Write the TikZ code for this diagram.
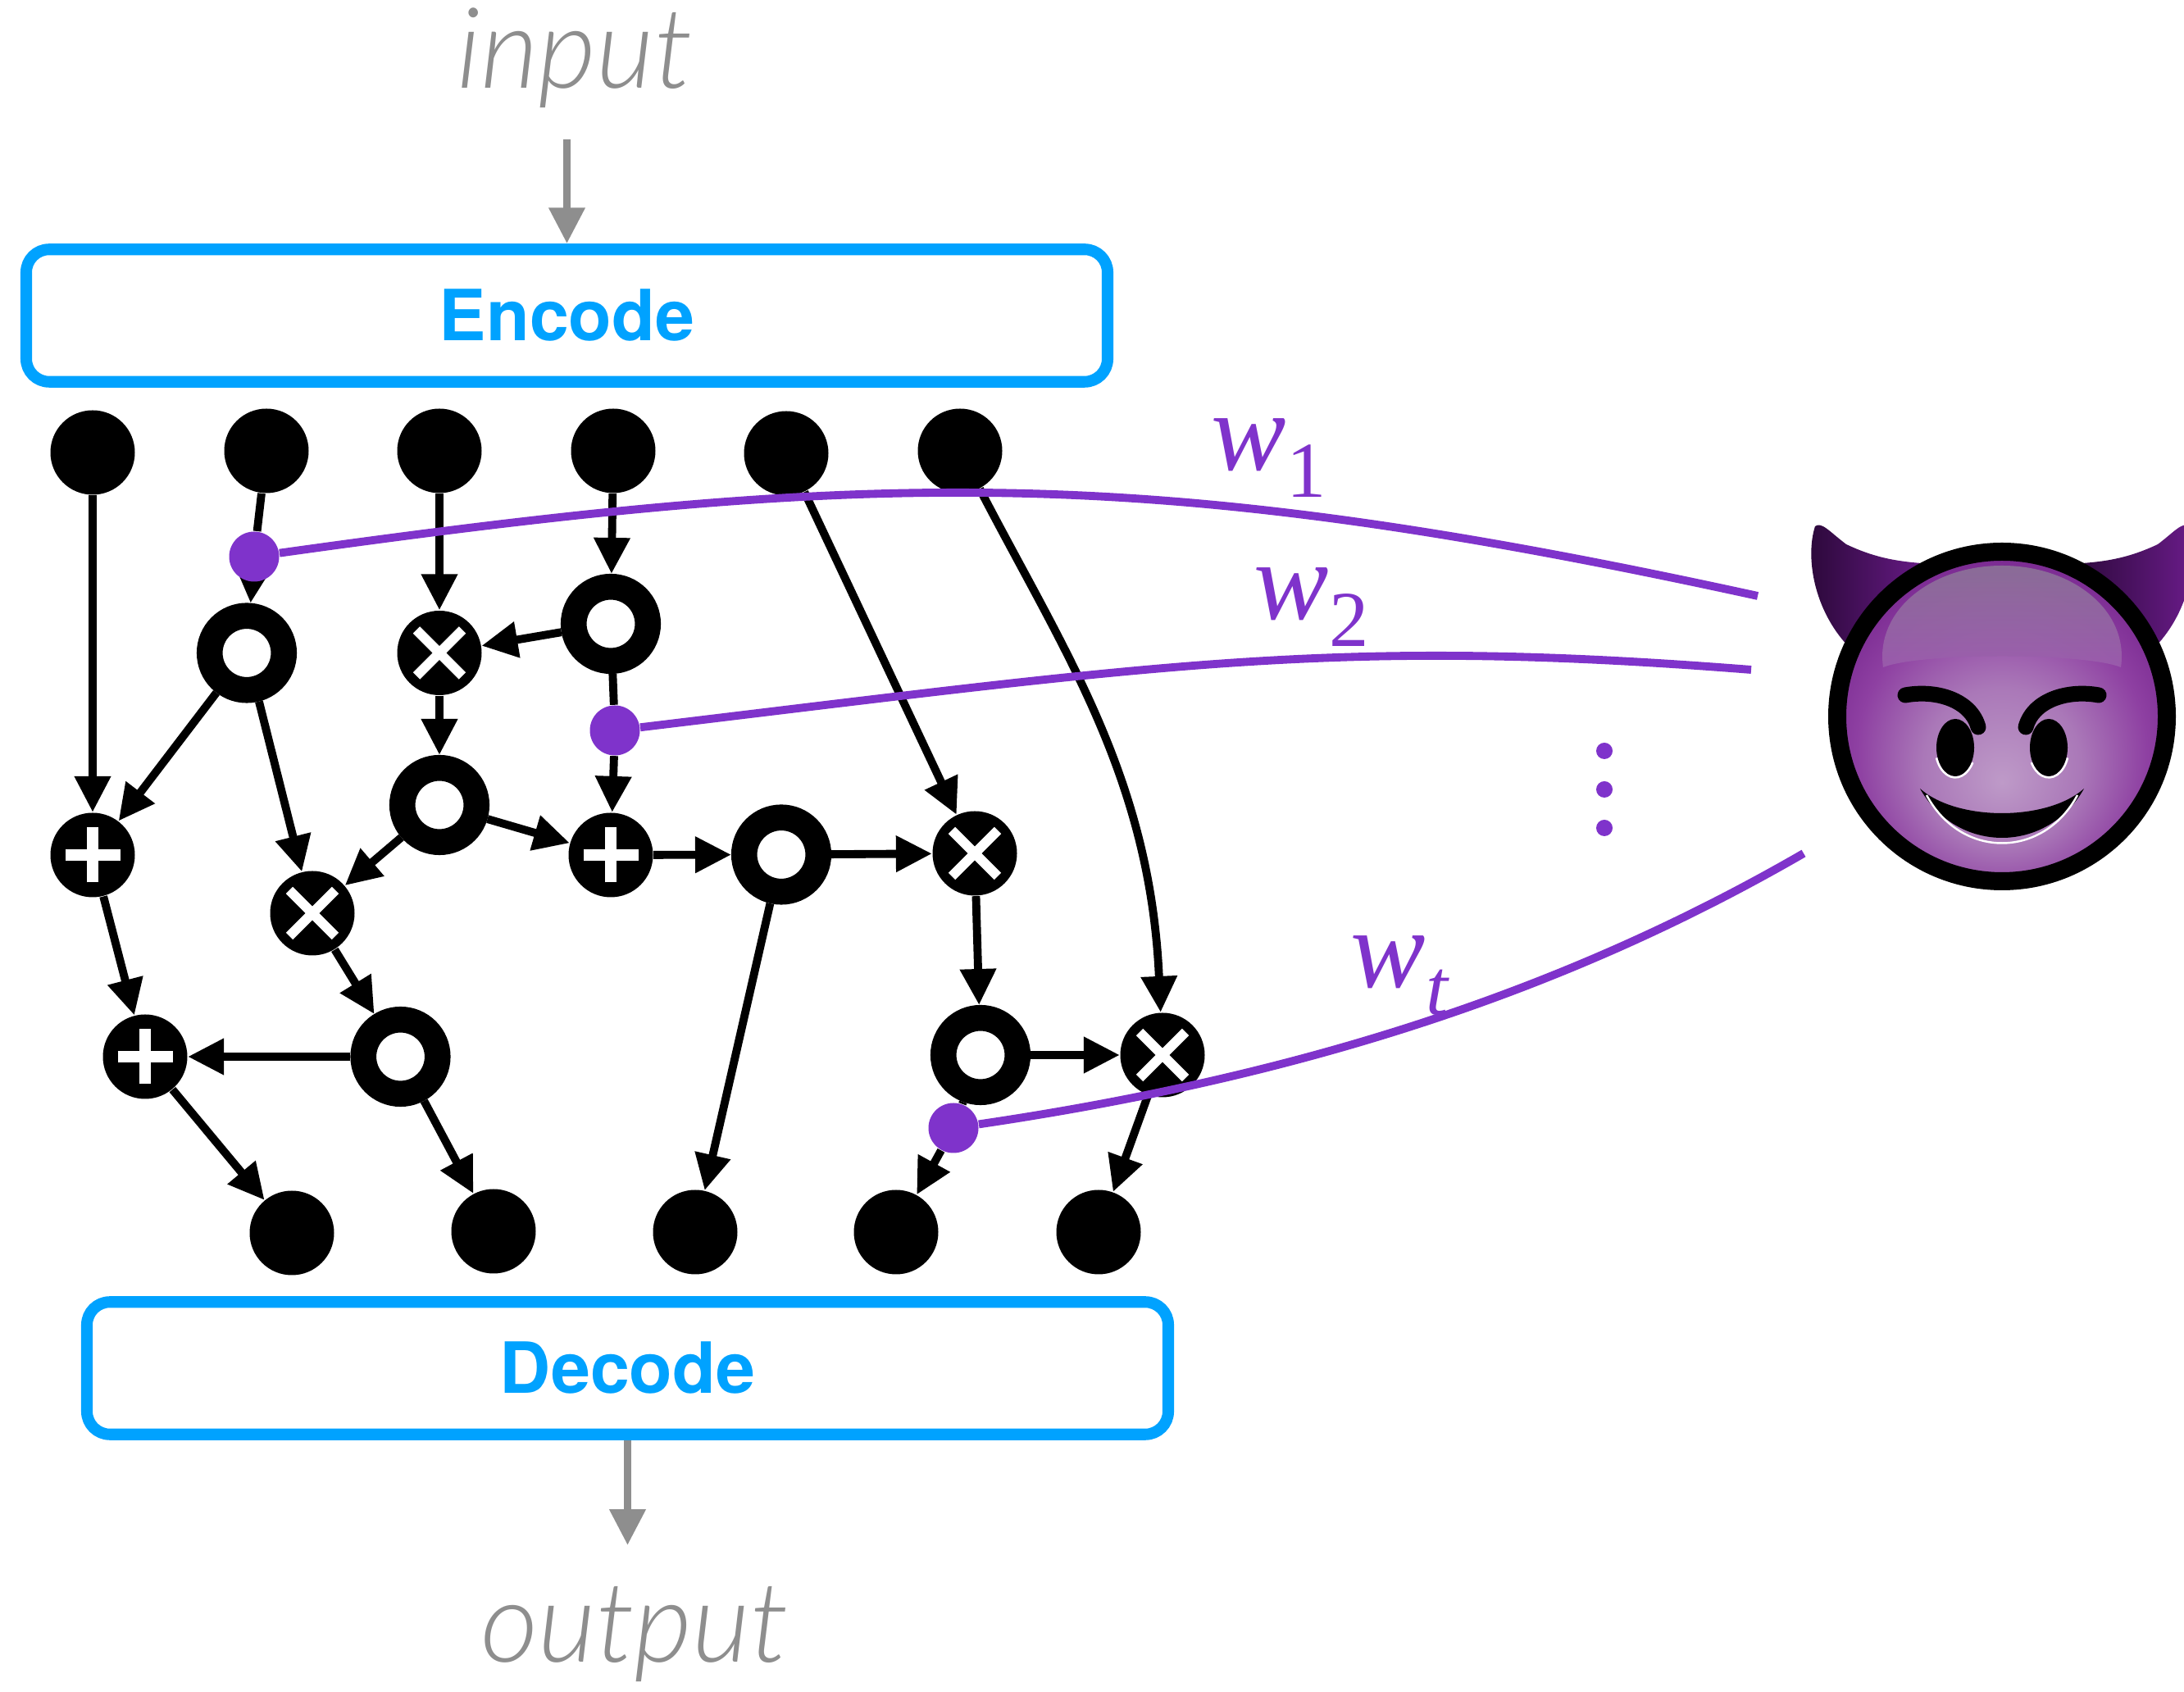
\documentclass[tikz,border=0pt]{standalone}
\usepackage{fontspec}
\usetikzlibrary{arrows.meta}

\newfontfamily\boxfont{TeX Gyre Heros}
\newfontfamily\ioFont{Lato Light Italic}
\newfontfamily\wfont{Liberation Serif}

\definecolor{encblue}{HTML}{00A2FF}
\definecolor{iogray}{HTML}{8E8E8E}
\definecolor{wirepurple}{HTML}{7F33CB}
\definecolor{devlight}{HTML}{BE9AC8}
\definecolor{devsoft}{HTML}{AA78B8}
\definecolor{devmid}{HTML}{8E40A2}
\definecolor{devedge}{HTML}{76258E}
\definecolor{devdeep}{HTML}{5A1672}
\definecolor{devdark}{HTML}{2A0838}
\definecolor{devhorn}{HTML}{6C1C8C}
\definecolor{devhltop}{HTML}{8C7398}
\definecolor{devhlbot}{HTML}{9B5DAD}

\pgfdeclareradialshading{devilface}{\pgfpoint{0bp}{-10bp}}{%
  color(0bp)=(devlight); color(12bp)=(devsoft); color(22bp)=(devmid);
  color(30bp)=(devedge); color(36bp)=(devdeep); color(42bp)=(devdark);
  color(50bp)=(black)}

\pgfdeclarelayer{edges}
\pgfsetlayers{edges,main}

% lowered index after a w
\newcommand{\wsub}[1]{\lower0.33cm\hbox{\fontsize{27.5}{28}\selectfont #1}}

\begin{document}
\begin{tikzpicture}[
    val/.style={circle, fill=black, minimum size=1.03cm, inner sep=0pt},
    fnode/.style={circle, draw=black, line width=9pt, fill=white, minimum size=0.905cm, inner sep=0pt},
    addop/.style={val, path picture={\draw[white, line width=3.8pt] (path picture bounding box.center) +(-0.335,0) -- +(0.335,0) +(0,-0.335) -- +(0,0.335);}},
    mulop/.style={val, path picture={\draw[white, line width=3.4pt] (path picture bounding box.center) +(-0.28,-0.28) -- +(0.28,0.28) +(-0.28,0.28) -- +(0.28,-0.28);}},
    tap/.style={circle, fill=wirepurple, minimum size=0.61cm, inner sep=0pt},
    more/.style={circle, fill=wirepurple, minimum size=0.2cm, inner sep=0pt},
    codec/.style={rectangle, draw=encblue, line width=4pt, rounded corners=2.8mm, minimum width=13.19cm, minimum height=1.615cm, text=encblue, font=\boxfont\bfseries\fontsize{24.5}{30}\selectfont},
    link/.style={line width=2.8pt},
    arr/.style={link, -{Triangle[length=12.5pt, width=12pt]}},
    io/.style={iogray, anchor=base, font=\ioFont\fontsize{39}{44}\selectfont},
    wire/.style={wirepurple, line width=2.8pt},
    wlab/.style={wirepurple, inner sep=0pt, anchor=base west, font=\wfont\fontsize{39}{44}\selectfont}
]
\useasboundingbox (0,0) rectangle (26.64,20.64);

% encoder / decoder
\node[codec] (enc) at (6.915,16.79) {Encode};
\node[codec] (dec) at (7.655,3.95)  {Decode};
\node[io] (in)  at (7.01,19.56) {input};
\node[io] (out) at (7.74,0.36)  {output};
\coordinate (inarr)  at (6.915,18.94);
\coordinate (outarr) at (7.655,1.79);
\draw[arr, iogray] (inarr) -- (enc);
\draw[arr, iogray] (dec) -- (outarr);

% inputs of the graph
\node[val] (t1) at (1.13,15.12)  {};
\node[val] (t2) at (3.25,15.14)  {};
\node[val] (t3) at (5.36,15.14)  {};
\node[val] (t4) at (7.48,15.14)  {};
\node[val] (t5) at (9.59,15.11)  {};
\node[val] (t6) at (11.71,15.14) {};

% outputs of the graph
\node[val] (b1) at (3.56,5.60)  {};
\node[val] (b2) at (6.02,5.62)  {};
\node[val] (b3) at (8.48,5.61)  {};
\node[val] (b4) at (10.93,5.61) {};
\node[val] (b5) at (13.40,5.61) {};

% operations
\node[fnode] (o1) at (3.01,12.675) {};
\node[mulop] (x1) at (5.36,12.675) {};
\node[fnode] (o2) at (7.45,13.03)  {};
\node[fnode] (o3) at (5.36,10.82)  {};
\node[addop] (p1) at (1.13,10.21)  {};
\node[mulop] (x2) at (3.81,9.50)   {};
\node[addop] (p2) at (7.45,10.21)  {};
\node[fnode] (o4) at (9.53,10.215) {};
\node[mulop] (x3) at (11.89,10.23) {};
\node[addop] (p3) at (1.77,7.75)   {};
\node[fnode] (o5) at (4.885,7.75)  {};
\node[fnode] (o6) at (11.96,7.77)  {};
\node[mulop] (x4) at (14.18,7.77)  {};

% tapped edges
\node[tap] (tap1) at (3.10,13.85)  {};
\node[tap] (tap2) at (7.50,11.73)  {};
\node[tap] (tap3) at (11.63,6.88)  {};

\begin{pgfonlayer}{edges}
\draw[arr] (t1) -- (p1);
\draw[link] (t2) -- (tap1);
\draw[arr] (tap1) -- (o1);
\draw[arr] (t3) -- (x1);
\draw[arr] (t4) -- (o2);
\draw[arr] (t5) -- (x3);
\draw[arr] (t6) .. controls (12.98,12.69) and (14.03,11.16) .. (x4);
\draw[arr] (o2) -- (x1);
\draw[link] (o2) -- (tap2);
\draw[arr] (tap2) -- (p2);
\draw[arr] (x1) -- (o3);
\draw[arr] (o1) -- (p1);
\draw[arr] (o1) -- (x2);
\draw[arr] (o3) -- (x2);
\draw[arr] (o3) -- (p2);
\draw[arr] (p2) -- (o4);
\draw[arr] (o4) -- (x3);
\draw[arr] (o4) -- (b3);
\draw[arr] (x3) -- (o6);
\draw[arr] (o6) -- (x4);
\draw[arr] (p1) -- (p3);
\draw[arr] (x2) -- (o5);
\draw[arr] (o5) -- (p3);
\draw[arr] (p3) -- (b1);
\draw[arr] (o5) -- (b2);
\draw[link] (o6) -- (tap3);
\draw[arr] (tap3) -- (b4);
\draw[arr] (x4) -- (b5);
\end{pgfonlayer}

% weights pulled out to the devil
\coordinate (w1end) at (21.44,13.37);
\coordinate (w2end) at (21.36,12.47);
\coordinate (wtend) at (22.00,10.23);
\draw[wire] (tap1) .. controls (10.66,14.91) and (13.98,15.00) .. (w1end);
\draw[wire] (tap2) .. controls (14.24,12.54) and (16.28,12.87) .. (w2end);
\draw[wire] (tap3) .. controls (15.83,7.50) and (19.06,8.53) .. (wtend);
\node[wlab] (w1lab) at (14.77,14.90) {\textit{w}\wsub{1}};
\node[wlab] (w2lab) at (15.29,13.08) {\textit{w}\wsub{2}};
\node[wlab] (wtlab) at (16.47,8.59)  {\textit{w}\wsub{\textit{t}}};
\node[more] (more1) at (19.57,11.48) {};
\node[more] (more2) at (19.57,11.01) {};
\node[more] (more3) at (19.57,10.54) {};

% devil
\begin{scope}[shift={(24.42,11.90)}]
  \foreach \s in {1,-1}
    \shade[left color=devdark, right color=devhorn, xscale=\s]
      (-1.87,0.85) .. controls (-2.30,1.30) and (-2.40,1.95) .. (-2.28,2.32)
      .. controls (-2.20,2.38) and (-2.10,2.25) .. (-1.90,2.10)
      .. controls (-1.52,1.92) and (-1.22,1.88) .. (-0.82,1.86) -- cycle;
  \shadedraw[shading=devilface, draw=black, line width=0.22cm] (0,0) circle (2.01);
  \shade[top color=devhltop, bottom color=devhlbot, opacity=0.9]
      (-1.45,0.60) .. controls (-1.55,1.30) and (-0.85,1.84) .. (0,1.84)
      .. controls (0.85,1.84) and (1.55,1.30) .. (1.45,0.60)
      .. controls (1.0,0.78) and (-1.0,0.78) .. cycle;
  \foreach \s in {1,-1} {
    \draw[black, line width=0.19cm, line cap=round, xscale=\s]
      (-1.18,0.26) .. controls (-0.80,0.33) and (-0.38,0.20) .. (-0.29,-0.13);
    \fill[black, xscale=\s] (-0.57,-0.38) ellipse (0.23 and 0.35);
    \draw[white, line width=0.7pt, xscale=\s]
      (-0.57,-0.38) ++(200:0.245 and 0.365) arc[start angle=200, end angle=330, x radius=0.245, y radius=0.365];
  }
  \fill[black] (-1.00,-0.88) .. controls (-0.55,-1.28) and (0.55,-1.28) .. (1.00,-0.88)
      .. controls (0.55,-1.68) and (-0.55,-1.68) .. cycle;
  \draw[white, line width=0.7pt] (-0.92,-0.96) .. controls (-0.50,-1.74) and (0.50,-1.74) .. (0.92,-0.96);
\end{scope}
\end{tikzpicture}
\end{document}
